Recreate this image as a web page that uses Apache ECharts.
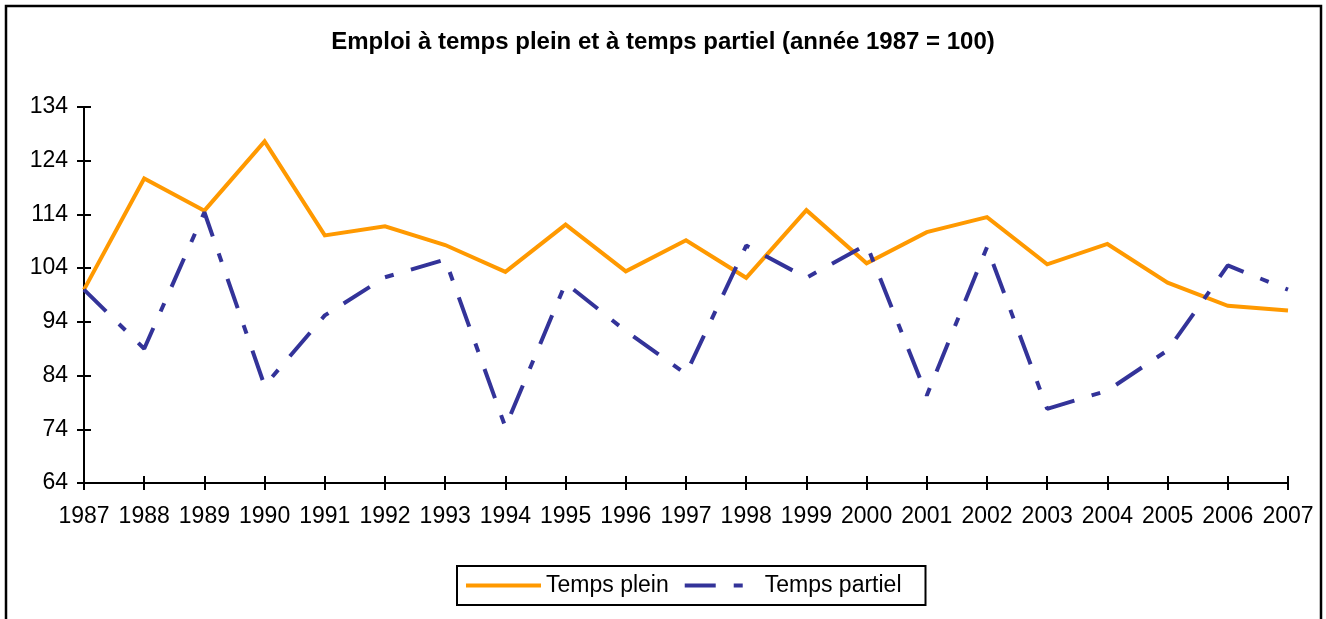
<!DOCTYPE html>
<html>
<head>
<meta charset="utf-8">
<script src="https://cdn.jsdelivr.net/npm/echarts@6/dist/echarts.min.js"></script>
<style>
html,body{margin:0;padding:0;background:#fff;}
#chart{width:1326px;height:619px;}
</style>
</head>
<body>
<div id="chart"></div>
<script>
const titleText = 'Emploi à temps plein et à temps partiel (année 1987 = 100)';
const years = ['1987','1988','1989','1990','1991','1992','1993','1994','1995','1996','1997','1998','1999','2000','2001','2002','2003','2004','2005','2006','2007'];
const tempsPlein = [100, 120.7, 114.7, 127.6, 110.1, 111.8, 108.3, 103.3, 112.1, 103.4, 109.2, 102.2, 114.8, 104.9, 110.7, 113.5, 104.7, 108.5, 101.3, 97.0, 96.1];
const tempsPartiel = [100, 89.0, 114.4, 82.1, 95.2, 102.3, 105.6, 74.4, 101.2, 92.3, 84.3, 108.2, 102.2, 108.4, 80.3, 107.9, 77.8, 81.2, 88.7, 104.5, 100.0];
const yTicks = [64, 74, 84, 94, 104, 114, 124, 134];
const seriesNames = ['Temps plein', 'Temps partiel'];

const FONT = 'Liberation Sans, Arial, sans-serif';
const chart = echarts.init(document.getElementById('chart'), null, {renderer: 'canvas'});

const yBase = {
  type: 'value', min: yTicks[0], max: yTicks[yTicks.length - 1], position: 'left',
  splitLine: {show: false}
};
const xBase = {
  type: 'category', data: years, boundaryGap: false, position: 'bottom',
  splitLine: {show: false}
};

chart.setOption({
  animation: false,
  backgroundColor: '#fff',
  title: {
    text: titleText, left: 'center', top: 25,
    textStyle: {fontFamily: FONT, fontSize: 24, fontWeight: 'bold', color: '#000'}
  },
  graphic: [{
    type: 'rect', silent: true,
    shape: {x: 6, y: 6, width: 1315, height: 700},
    style: {fill: 'none', stroke: '#000', lineWidth: 2.5}
  }],
  legend: {
    data: seriesNames, left: 457, top: 566,
    padding: [8, 24, 8, 7],
    borderColor: '#000', borderWidth: 2, borderRadius: 0,
    itemWidth: 75, itemHeight: 14, itemGap: 14,
    itemStyle: {opacity: 0},
    lineStyle: {width: 4},
    textStyle: {fontFamily: FONT, fontSize: 23, color: '#000'}
  },
  grid: {left: 84, right: 38, top: 107, bottom: 136, containLabel: false},
  xAxis: [
    Object.assign({}, xBase, {
      axisLine: {show: true, lineStyle: {color: '#000', width: 2}},
      axisTick: {show: true, length: 7, lineStyle: {color: '#000', width: 2}},
      axisLabel: {show: true, margin: 22, fontFamily: FONT, fontSize: 23, color: '#000', interval: 0}
    }),
    Object.assign({}, xBase, {
      axisLine: {show: false},
      axisTick: {show: true, inside: true, length: 7, lineStyle: {color: '#000', width: 2}},
      axisLabel: {show: false}
    })
  ],
  yAxis: [
    Object.assign({}, yBase, {
      axisLine: {show: true, lineStyle: {color: '#000', width: 2}},
      axisTick: {show: true, length: 7, customValues: yTicks, lineStyle: {color: '#000', width: 2}},
      axisLabel: {show: true, margin: 16, customValues: yTicks, fontFamily: FONT, fontSize: 23, color: '#000'}
    }),
    Object.assign({}, yBase, {
      axisLine: {show: false},
      axisTick: {show: true, inside: true, length: 7, customValues: yTicks, lineStyle: {color: '#000', width: 2}},
      axisLabel: {show: false, customValues: yTicks}
    })
  ],
  series: [
    {
      name: seriesNames[0], type: 'line', data: tempsPlein,
      xAxisIndex: 0, yAxisIndex: 0,
      showSymbol: false, symbol: 'none',
      color: '#FF9900',
      lineStyle: {color: '#FF9900', width: 4, join: 'miter'}
    },
    {
      name: seriesNames[1], type: 'line', data: tempsPartiel,
      xAxisIndex: 0, yAxisIndex: 0,
      showSymbol: false, symbol: 'none',
      color: '#333399',
      lineStyle: {color: '#333399', width: 4, type: [31, 18, 9, 18], cap: 'butt'}
    }
  ]
});
</script>
</body>
</html>
